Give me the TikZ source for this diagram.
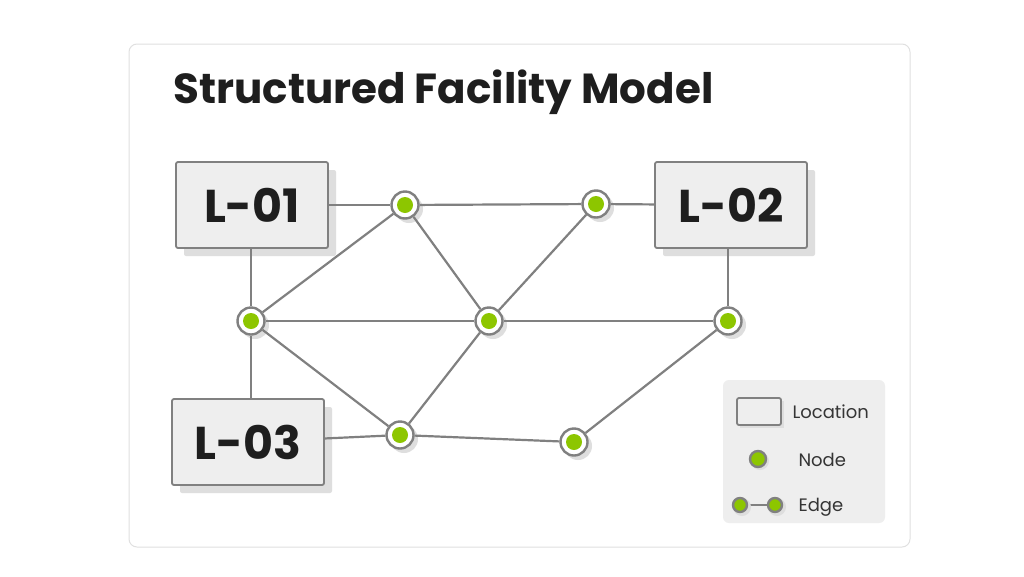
\documentclass[tikz,border=0pt]{standalone}
\usepackage{fontspec}
\setmainfont{Poppins}
\usetikzlibrary{positioning,backgrounds}
\definecolor{edgegray}{RGB}{128,128,128}
\definecolor{boxfill}{RGB}{238,238,238}
\definecolor{shadowgray}{RGB}{222,222,222}
\definecolor{leaf}{RGB}{141,198,0}
\definecolor{ink}{RGB}{30,30,30}
\tikzset{
    location/.style={
        rectangle, rounded corners=2pt,
        draw=edgegray, line width=1.8pt, fill=boxfill,
        minimum width=152pt, minimum height=86pt,
        font=\fontsize{46}{46}\selectfont\bfseries, text=ink,
    },
    shade/.style={fill=shadowgray, draw=none, rounded corners=2pt},
    hub/.style={
        circle, draw=edgegray, line width=2.4pt, fill=white,
        minimum size=27pt, inner sep=0pt,
        path picture={\fill[leaf] (path picture bounding box.center) circle (8pt);},
    },
    link/.style={draw=edgegray, line width=2.2pt},
    legtext/.style={font=\fontsize{18}{18}\selectfont, text=ink!90, anchor=west},
}
\begin{document}
\begin{tikzpicture}[x=1pt,y=-1pt]
    \useasboundingbox (0,0) rectangle (1024,576);
    \begin{scope}[on background layer]
    % card
    \draw[rounded corners=8pt, fill=white, draw=black!12, line width=1pt] (129,44) rectangle (910,547);
    % shadows
    \foreach \cx/\cy in {252/205, 731/205, 248/442} {
        \fill[shade] (\cx-76+8,\cy-43+8) rectangle (\cx+76+8,\cy+43+8);
    }
    \foreach \cx/\cy in {405/205,596/204,251/321,489/321,728/321,400/435,574/442} {
        \fill[shadowgray] (\cx+4,\cy+4) circle (14pt);
    }
    \end{scope}
    \node[anchor=base west, font=\fontsize{42}{42}\selectfont\bfseries, text=ink] (title) at (170,103) {Structured Facility Model};

    % locations
    \node[location] (l01) at (252,205) {L-01};
    \node[location] (l02) at (731,205) {L-02};
    \node[location] (l03) at (248,442) {L-03};

    % hubs
    \foreach \name/\cx/\cy in {n1/405/205, n2/596/204, n3/251/321, n4/489/321, n5/728/321, n6/400/435, n7/574/442} {
        \node[hub] (\name) at (\cx,\cy) {};
    }

    % links
    \begin{scope}[on background layer]
    \foreach \a/\b in {l01/n1, n1/n2, n2/l02, n3/n1, n1/n4, n2/n4, n3/n4, n4/n5, n3/n6, n4/n6, l03/n6, n6/n7, n7/n5} {
        \draw[link] (\a) -- (\b);
    }
    \draw[link] (l01.south -| n3) -- (n3);
    \draw[link] (l02.south -| n5) -- (n5);
    \draw[link] (n3) -- (l03.north -| n3);
    \end{scope}

    % legend
    \fill[boxfill, rounded corners=6pt] (723,380) rectangle (885,523);
    \fill[shadowgray] (740,401) rectangle (784,428);
    \draw[fill=boxfill, draw=edgegray, line width=1.8pt, rounded corners=2pt] (737,398) rectangle (781,425);
    \node[legtext] (loc) at (789,412) {Location};
    \fill[shadowgray] (760,461) circle (9pt);
    \draw[fill=leaf, draw=edgegray, line width=2.4pt] (758,459) circle (8pt);
    \node[legtext] (nod) at (795,460) {Node};
    \coordinate (e1) at (740,505);
    \coordinate (e2) at (775,505);
    \draw[link] (e1) -- (e2);
    \fill[shadowgray] (742,507) circle (9pt);
    \fill[shadowgray] (777,507) circle (9pt);
    \draw[fill=leaf, draw=edgegray, line width=2.4pt] (e1) circle (7pt);
    \draw[fill=leaf, draw=edgegray, line width=2.4pt] (e2) circle (7pt);
    \node[legtext] (edg) at (795,507) {Edge};
\end{tikzpicture}
\end{document}
